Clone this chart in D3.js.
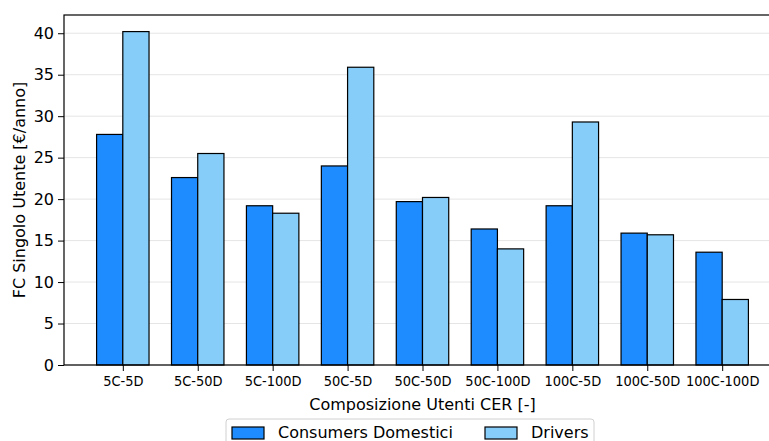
<!DOCTYPE html>
<html>
<head>
<meta charset="utf-8">
<script src="https://cdn.jsdelivr.net/npm/d3@7"></script>
<style>
  body { margin: 0; background: #fff; }
  svg text { font-family: "DejaVu Sans", sans-serif; fill: #000; }
</style>
</head>
<body>
<div id="chart"></div>
<script>
// Dati
const categories = ['5C-5D', '5C-50D', '5C-100D', '50C-5D', '50C-50D', '50C-100D', '100C-5D', '100C-50D', '100C-100D'];
const consumers = [27.8, 22.6, 19.2, 24.0, 19.7, 16.4, 19.2, 15.9, 13.6];
const drivers = [40.2, 25.5, 18.3, 35.9, 20.2, 14.0, 29.3, 15.7, 7.9];
const yTicks = [0, 5, 10, 15, 20, 25, 30, 35, 40];
const seriesNames = ['Consumers Domestici', 'Drivers'];
const seriesColors = ['#1e8cff', '#87cdf9'];

const W = 769, H = 441;
const margin = { top: 15, left: 64 };
const plotW = 717, plotH = 350;
const barW = 0.35;

const svg = d3.select('#chart').append('svg')
  .attr('width', W).attr('height', H);

const chart = svg.append('g')
  .attr('transform', `translate(${margin.left},${margin.top})`);

const x = d3.scaleLinear().domain([-0.785, categories.length - 1 + 0.785]).range([0, plotW]);
const y = d3.scaleLinear().domain([0, 42.2]).range([plotH, 0]);

// Griglia orizzontale
chart.append('g').selectAll('line').data(yTicks).join('line')
  .attr('x1', 0).attr('x2', plotW)
  .attr('y1', d => y(d)).attr('y2', d => y(d))
  .attr('stroke', '#e5e5e5').attr('stroke-width', 1);

// Barre
const series = [consumers, drivers];
series.forEach((vals, s) => {
  chart.append('g').selectAll('rect').data(vals).join('rect')
    .attr('x', (d, i) => x(i + (s === 0 ? -barW : 0)))
    .attr('width', x(barW) - x(0))
    .attr('y', d => y(d))
    .attr('height', d => y(0) - y(d))
    .attr('fill', seriesColors[s])
    .attr('stroke', '#000').attr('stroke-width', 1.2);
});

// Assi
const yAxis = d3.axisLeft(y).tickValues(yTicks).tickSize(6).tickPadding(4);
chart.append('g').call(yAxis)
  .call(g => g.select('.domain').remove())
  .call(g => g.selectAll('text').style('font-size', '16px'));

const xAxis = d3.axisBottom(x).tickValues(d3.range(categories.length))
  .tickFormat(i => categories[i]).tickSize(6).tickPadding(5);
chart.append('g').attr('transform', `translate(0,${plotH})`).call(xAxis)
  .call(g => g.select('.domain').remove())
  .call(g => g.selectAll('text').style('font-size', '14px').attr('transform', 'scale(0.93,1)'));

// Bordi
chart.append('rect').attr('x', 0).attr('y', 0).attr('width', plotW).attr('height', plotH)
  .attr('fill', 'none').attr('stroke', '#000').attr('stroke-width', 1.2);

// Etichette assi
svg.append('text')
  .attr('transform', `translate(25,${margin.top + plotH / 2}) rotate(-90)`)
  .attr('text-anchor', 'middle')
  .style('font-size', '16px')
  .text('FC Singolo Utente [€/anno]');

svg.append('text')
  .attr('x', margin.left + plotW / 2).attr('y', 410)
  .attr('text-anchor', 'middle')
  .style('font-size', '16px')
  .text('Composizione Utenti CER [-]');

// Legenda
const legend = svg.append('g').attr('transform', 'translate(226,419)');
legend.append('rect').attr('width', 368).attr('height', 36).attr('rx', 3)
  .attr('fill', '#fff').attr('stroke', '#d0d0d0');
const legX = [6, 259];
seriesNames.forEach((name, s) => {
  legend.append('rect').attr('x', legX[s]).attr('y', 8).attr('width', 32).attr('height', 12)
    .attr('fill', seriesColors[s]).attr('stroke', '#000').attr('stroke-width', 1.2);
  legend.append('text').attr('x', legX[s] + 46).attr('y', 19)
    .style('font-size', '16px').text(name);
});
</script>
</body>
</html>
